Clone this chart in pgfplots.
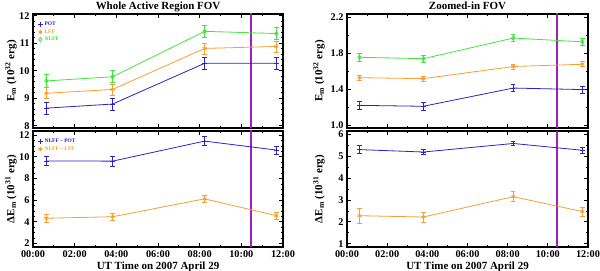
\documentclass[border=0pt]{standalone}
\usepackage{fontspec}
\setmainfont{Liberation Serif}
\usepackage{pgfplots}
\pgfplotsset{compat=1.18}
\definecolor{cpot}{RGB}{48,32,200}
\definecolor{clff}{RGB}{245,160,48}
\definecolor{cnlff}{RGB}{64,230,64}
\definecolor{cline}{RGB}{160,30,185}
\pgfplotsset{
  base/.style={
    scale only axis,
    xmin=0, xmax=12,
    axis line style={line width=1.3bp},
    tick style={black, line width=0.7bp},
    major tick length=4bp, minor tick length=2bp,
    tick align=inside,
    xtick={0,2,4,6,8,10,12},
    minor x tick num=1,
    xticklabels={00:00,02:00,04:00,06:00,08:00,10:00,12:00},
    /pgf/number format/assume math mode=true,
    tick label style={font=\fontsize{10.3}{10.3}\selectfont\bfseries},
    label style={font=\fontsize{11}{12}\selectfont\bfseries},
    every axis title shift=0pt,
    title style={font=\fontsize{11}{12}\selectfont\bfseries, at={(axis description cs:0.5,1)}, anchor=base, yshift=4bp},
    xticklabel style={yshift=0bp},
    xlabel style={yshift=2bp},
    legend style={draw=none, fill=none, font=\fontsize{5.5}{5.5}\selectfont\bfseries, at={(0.02,0.95)}, anchor=north west, inner sep=0pt, row sep=-1.5bp, legend cell align=left},
    legend image code/.code={\draw[#1, only marks] plot coordinates {(0.1cm,0cm)};},
    error bars/y dir=both, error bars/y explicit,
    error bars/error mark options={line width=0.7bp, mark size=2.2bp, rotate=90},
    error bars/error bar style={line width=0.7bp},
  },
  pot/.style={cpot, line width=0.8bp, mark=+, mark size=2.2bp},
  lff/.style={clff, line width=0.8bp, mark=asterisk, mark size=2.2bp},
  nlff/.style={cnlff, line width=0.8bp, mark=diamond, mark size=2.2bp},
  vline/.style={cline, line width=1.6bp, mark=none, forget plot},
}
\begin{document}
\begin{tikzpicture}
\path[use as bounding box] (0,0) rectangle (600bp,271bp);
% top left
\begin{axis}[base, at={(33bp,143bp)}, width=250bp, height=114bp,
  ymin=7.92, ymax=12.06, ytick={8,9,10,11,12}, minor y tick num=4,
  xticklabels={}, title={Whole Active Region FOV},
  ylabel={E\textsubscript{m} (10\textsuperscript{32} erg)},
  ylabel style={at={(axis description cs:-0.088,0.5)}, anchor=center}]
\addplot[vline] coordinates {(10.45,0) (10.45,20)};
\addplot[pot] table[x=t,y=v,y error=e] {
t v e
0.64 8.64 0.22
3.82 8.79 0.22
8.24 10.27 0.22
11.68 10.27 0.22
};
\addlegendentry{\textcolor{cpot}{POT}}
\addplot[lff] table[x=t,y=v,y error=e] {
t v e
0.64 9.18 0.20
3.82 9.32 0.20
8.24 10.81 0.20
11.68 10.88 0.20
};
\addlegendentry{\textcolor{clff}{LFF}}
\addplot[nlff] table[x=t,y=v,y error=e] {
t v e
0.64 9.63 0.22
3.82 9.78 0.22
8.24 11.43 0.22
11.68 11.35 0.22
};
\addlegendentry{\textcolor{cnlff}{NLFF}}
\end{axis}
% bottom left
\begin{axis}[base, at={(33bp,24bp)}, width=250bp, height=116bp,
  ymin=1.68, ymax=12.38, ytick={2,4,6,8,10,12}, minor y tick num=3,
  xlabel={UT Time on 2007 April 29},
  ylabel={ΔE\textsubscript{m} (10\textsuperscript{31} erg)},
  ylabel style={at={(axis description cs:-0.088,0.5)}, anchor=center}]
\addplot[vline] coordinates {(10.45,0) (10.45,20)};
\addplot[pot] table[x=t,y=v,y error=e] {
t v e
0.64 9.62 0.40
3.82 9.60 0.45
8.24 11.45 0.40
11.68 10.62 0.38
};
\addlegendentry{\textcolor{cpot}{NLFF -- POT}}
\addplot[lff] table[x=t,y=v,y error=e] {
t v e
0.64 4.33 0.38
3.82 4.47 0.35
8.24 6.12 0.30
11.68 4.57 0.30
};
\addlegendentry{\textcolor{clff}{NLFF -- LFF}}
\end{axis}
% top right
\begin{axis}[base, at={(347bp,143bp)}, width=241bp, height=114bp,
  ymin=0.97, ymax=2.24, ytick={1.0,1.4,1.8,2.2}, minor y tick num=1,
  yticklabel style={/pgf/number format/fixed, /pgf/number format/fixed zerofill, /pgf/number format/precision=1},
  xticklabels={}, title={Zoomed-in FOV},
  ylabel={E\textsubscript{m} (10\textsuperscript{32} erg)},
  ylabel style={at={(axis description cs:-0.116,0.5)}, anchor=center}]
\addplot[vline] coordinates {(10.45,0) (10.45,20)};
\addplot[pot] table[x=t,y=v,y error=e] {
t v e
0.62 1.222 0.045
3.80 1.212 0.040
8.28 1.415 0.040
11.72 1.398 0.040
};
\addplot[lff] table[x=t,y=v,y error=e] {
t v e
0.62 1.530 0.030
3.80 1.520 0.028
8.28 1.655 0.028
11.72 1.680 0.028
};
\addplot[nlff] table[x=t,y=v,y error=e] {
t v e
0.62 1.758 0.040
3.80 1.742 0.040
8.28 1.972 0.040
11.72 1.930 0.040
};
\end{axis}
% bottom right
\begin{axis}[base, at={(347bp,24bp)}, width=241bp, height=116bp,
  ymin=0.85, ymax=6.15, ytick={1,2,3,4,5,6}, minor y tick num=1,
  xlabel={UT Time on 2007 April 29},
  ylabel={ΔE\textsubscript{m} (10\textsuperscript{31} erg)},
  ylabel style={at={(axis description cs:-0.116,0.5)}, anchor=center}]
\addplot[vline] coordinates {(10.45,0) (10.45,20)};
\addplot[pot] table[x=t,y=v,y error=e] {
t v e
0.62 5.30 0.18
3.80 5.19 0.10
8.28 5.58 0.10
11.72 5.27 0.13
};
\addplot[lff] table[x=t,y=v,y error=e] {
t v e
0.62 2.28 0.35
3.80 2.22 0.23
8.28 3.15 0.22
11.72 2.47 0.20
};
\end{axis}
\end{tikzpicture}
\end{document}
